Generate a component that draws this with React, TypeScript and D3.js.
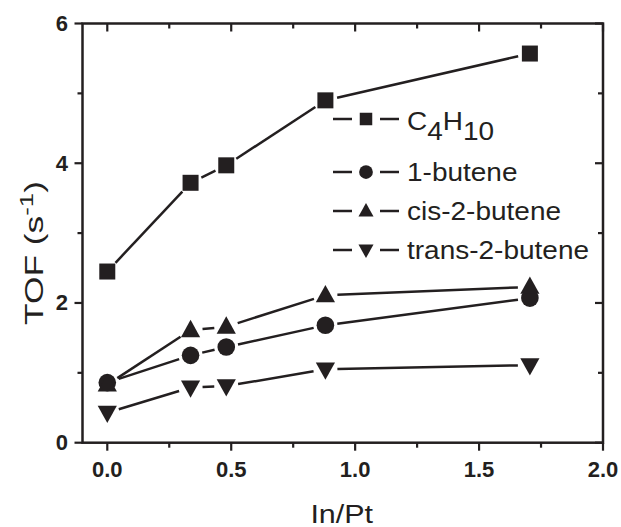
import * as d3 from "d3";
import React from "react";

const ratios = [0, 0.336, 0.48, 0.88, 1.705];
const butane = [2.45, 3.72, 3.97, 4.9, 5.57];
const butene1 = [0.86, 1.25, 1.37, 1.68, 2.07];
const cis2 = [0.83, 1.61, 1.66, 2.11, 2.23];
const trans2 = [0.43, 0.79, 0.81, 1.05, 1.11];

const xMajor = [0, 0.5, 1, 1.5, 2];
const xMinor = [0.25, 0.75, 1.25, 1.75];
const yMajor = [0, 2, 4, 6];
const yMinor = [1, 3, 5];

const W = 621;
const H = 527;
const font = "'Liberation Sans', Arial, sans-serif";

const x = d3.scaleLinear().domain([-0.1, 2.0]).range([82.5, 603]);
const y = d3.scaleLinear().domain([0, 6]).range([442.7, 23.5]);

type Shape = "square" | "circle" | "up" | "down";

const series: { name: string; values: number[]; shape: Shape }[] = [
  { name: "C4H10", values: butane, shape: "square" },
  { name: "1-butene", values: butene1, shape: "circle" },
  { name: "cis-2-butene", values: cis2, shape: "up" },
  { name: "trans-2-butene", values: trans2, shape: "down" },
];

function Marker({ shape, cx, cy, s }: { shape: Shape; cx: number; cy: number; s: number }) {
  if (shape === "square") {
    return <rect x={cx - s / 2} y={cy - s / 2} width={s} height={s} fill="#231f20" />;
  }
  if (shape === "circle") {
    return <circle cx={cx} cy={cy} r={s * 0.55} fill="#231f20" />;
  }
  const w = s * 1.2;
  const h = s * 1.08;
  const pts =
    shape === "up"
      ? [[cx, cy - h * 0.6], [cx - w / 2, cy + h * 0.4], [cx + w / 2, cy + h * 0.4]]
      : [[cx, cy + h * 0.6], [cx - w / 2, cy - h * 0.4], [cx + w / 2, cy - h * 0.4]];
  return <polygon points={pts.map((p) => p.join(",")).join(" ")} fill="#231f20" />;
}

// Origin-style: line segments stop short of the markers
function segments(values: number[], gap: number) {
  const segs: [number, number, number, number][] = [];
  for (let i = 0; i < values.length - 1; i++) {
    const x1 = x(ratios[i]), y1 = y(values[i]);
    const x2 = x(ratios[i + 1]), y2 = y(values[i + 1]);
    const len = Math.hypot(x2 - x1, y2 - y1);
    if (len <= gap * 2) continue;
    const ux = (x2 - x1) / len, uy = (y2 - y1) / len;
    segs.push([x1 + ux * gap, y1 + uy * gap, x2 - ux * gap, y2 - uy * gap]);
  }
  return segs;
}

export default function App() {
  const [x0, x1] = x.range();
  const [y0, y1] = y.range();
  const legendRows = [119, 172, 211, 250];
  const stroke = "#231f20";

  return (
    <svg width={W} height={H} style={{ position: "absolute", left: 0, top: 0, background: "#fff" }}>
      <rect x={x0} y={y1} width={x1 - x0} height={y0 - y1} fill="none" stroke={stroke} strokeWidth={2.5} />

      {xMajor.map((v) => (
        <g key={"xM" + v}>
          <line x1={x(v)} x2={x(v)} y1={y0} y2={y0 + 8} stroke={stroke} strokeWidth={2.2} />
          <line x1={x(v)} x2={x(v)} y1={y1} y2={y1 + 8} stroke={stroke} strokeWidth={2.2} />
          <text x={x(v)} y={477} textAnchor="middle" fontFamily={font} fontWeight="bold" fontSize={22} fill={stroke}>
            {d3.format(".1f")(v)}
          </text>
        </g>
      ))}
      {xMinor.map((v) => (
        <g key={"xm" + v}>
          <line x1={x(v)} x2={x(v)} y1={y0} y2={y0 + 5} stroke={stroke} strokeWidth={2.2} />
          <line x1={x(v)} x2={x(v)} y1={y1} y2={y1 + 5} stroke={stroke} strokeWidth={2.2} />
        </g>
      ))}

      {yMajor.map((v) => (
        <g key={"yM" + v}>
          <line x1={x0 - 8} x2={x0} y1={y(v)} y2={y(v)} stroke={stroke} strokeWidth={2.2} />
          <line x1={x1 - 8} x2={x1} y1={y(v)} y2={y(v)} stroke={stroke} strokeWidth={2.2} />
          <text x={68} y={y(v) + 7.5} textAnchor="end" fontFamily={font} fontWeight="bold" fontSize={22} fill={stroke}>
            {v}
          </text>
        </g>
      ))}
      {yMinor.map((v) => (
        <g key={"ym" + v}>
          <line x1={x0 - 5} x2={x0} y1={y(v)} y2={y(v)} stroke={stroke} strokeWidth={2.2} />
          <line x1={x1 - 5} x2={x1} y1={y(v)} y2={y(v)} stroke={stroke} strokeWidth={2.2} />
        </g>
      ))}

      {/* axis titles */}
      <text
        transform={`translate(${(x0 + x1) / 2 - 1}, 523) scale(1.22, 1)`}
        textAnchor="middle"
        fontFamily={font}
        fontSize={25}
        fill={stroke}
      >
        In/Pt
      </text>
      <text
        transform={`translate(43, 253) rotate(-90) scale(1.36, 1)`}
        textAnchor="middle"
        fontFamily={font}
        fontSize={26}
        fill={stroke}
      >
        TOF (s<tspan dy={-10} fontSize={19}>-1</tspan>
        <tspan dy={10}>)</tspan>
      </text>

      {series.map((s) => (
        <g key={s.name}>
          {segments(s.values, 12).map((sg, i) => (
            <line key={i} x1={sg[0]} y1={sg[1]} x2={sg[2]} y2={sg[3]} stroke={stroke} strokeWidth={2.5} />
          ))}
          {s.values.map((v, i) => (
            <Marker key={i} shape={s.shape} cx={x(ratios[i])} cy={y(v)} s={16} />
          ))}
        </g>
      ))}

      {/* legend */}
      {series.map((s, i) => {
        const ly = legendRows[i];
        return (
          <g key={"lg" + s.name}>
            <line x1={333} x2={352} y1={ly} y2={ly} stroke={stroke} strokeWidth={2.5} />
            <line x1={380} x2={399} y1={ly} y2={ly} stroke={stroke} strokeWidth={2.5} />
            <Marker shape={s.shape} cx={366} cy={ly} s={12.5} />
            {s.name === "C4H10" ? (
              <text transform={`translate(407, ${ly + 11}) scale(1.12, 1)`} fontFamily={font} fontSize={25} fill={stroke}>
                C<tspan dy={10}>4</tspan>
                <tspan dy={-10}>H</tspan>
                <tspan dy={10}>10</tspan>
              </text>
            ) : (
              <text transform={`translate(407, ${ly + 9}) scale(1.12, 1)`} fontFamily={font} fontSize={25} fill={stroke}>
                {s.name}
              </text>
            )}
          </g>
        );
      })}
    </svg>
  );
}
